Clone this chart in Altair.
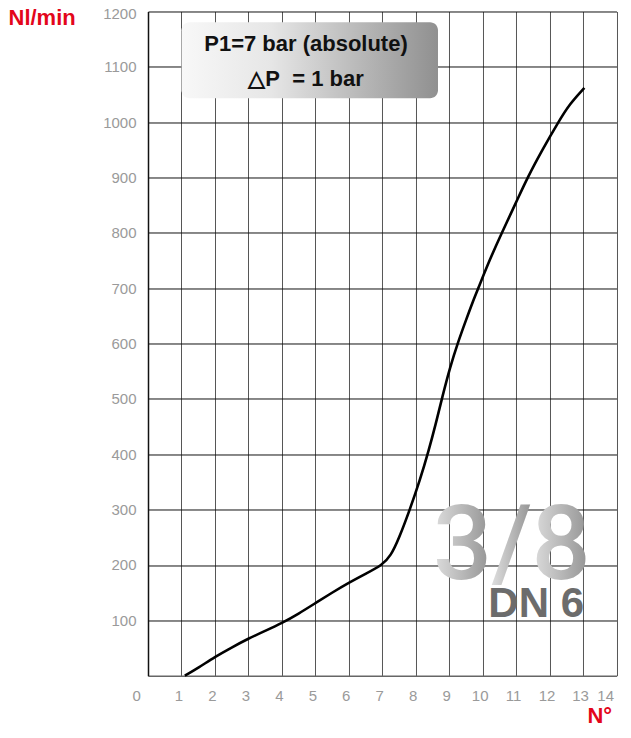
import altair as alt
import pandas as pd

# Flow curve
turns = [1.1, 1.5, 2, 2.5, 3, 3.5, 4, 4.5, 5, 5.5, 6, 6.5, 7, 7.25, 7.5, 7.83,
         8.13, 8.38, 8.6, 8.8, 9.03, 9.25, 9.5, 9.72, 9.87, 10.2, 10.57, 11.0,
         11.34, 11.8, 12.26, 12.6, 13.04]
flow = [0, 14, 34, 51, 67, 81, 95, 112, 131, 150, 168, 184, 200, 216, 248, 301,
        354, 405, 455, 505, 558, 600, 642, 678, 700, 750, 800, 855,
        900, 952, 1000, 1033, 1062]

x_ticks = list(range(0, 15))
y_ticks = list(range(100, 1300, 100))

RED = "#e3061b"
LABEL_GRAY = "#9a9a9a"

df = pd.DataFrame({"turns": turns, "flow": flow})
one = pd.DataFrame({"a": [0]})

x_enc = alt.X(
    "turns:Q",
    scale=alt.Scale(domain=[0, 14], nice=False, zero=False),
    axis=alt.Axis(
        values=x_ticks, title="N°", ticks=False, format="d",
        labelFont="Liberation Sans", labelFontSize=15, labelColor=LABEL_GRAY,
        labelPadding=13,
        labelOffset={"condition": {"test": "datum.value === 0", "value": -16}, "value": -3},
        grid=True, gridColor="#555555", gridWidth=1,
        domainColor="#666666", domainWidth=1.5,
        titleFont="Liberation Sans", titleFontSize=22, titleFontWeight="bold",
        titleColor=RED, titleAlign="left", titleBaseline="alphabetic",
        titleX=439, titleY=47, titleAngle=0,
    ),
)
y_enc = alt.Y(
    "flow:Q",
    scale=alt.Scale(domain=[0, 1200], nice=False),
    axis=alt.Axis(
        values=y_ticks, title="Nl/min", ticks=False, format="d",
        labelFont="Liberation Sans", labelFontSize=15, labelColor=LABEL_GRAY,
        labelPadding=12,
        labelOffset={"condition": {"test": "datum.value === 1200", "value": 2.5}, "value": 0},
        grid=True, gridColor="#111111", gridWidth=1,
        domainColor="#111111", domainWidth=1.5,
        titleFont="Liberation Sans", titleFontSize=22, titleFontWeight="bold",
        titleColor=RED, titleAlign="left", titleBaseline="alphabetic",
        titleX=-140, titleY=13.5, titleAngle=0,
    ),
)

line = alt.Chart(df).mark_line(
    color="black", strokeWidth=2.6, interpolate="basis"
).encode(x=x_enc, y=y_enc)

box = alt.Chart(one).mark_rect(
    cornerRadius=8,
    fill=alt.LinearGradient(
        gradient="linear",
        stops=[
            alt.GradientStop(color="#f8f8f8", offset=0),
            alt.GradientStop(color="#e6e6e6", offset=0.35),
            alt.GradientStop(color="#909090", offset=1),
        ],
        x1=0, x2=1, y1=0, y2=0,
    ),
).encode(x=alt.value(33.5), x2=alt.value(290), y=alt.value(10.8), y2=alt.value(86.8))

box_t1 = alt.Chart(one).mark_text(
    text="P1=7 bar (absolute)", font="Liberation Sans", fontSize=22,
    fontWeight="bold", color="#111111", align="center", baseline="alphabetic",
).encode(x=alt.value(158), y=alt.value(39.5))

box_t2 = alt.Chart(one).mark_text(
    text="△P\u00a0 = 1 bar", font="Liberation Sans", fontSize=22,
    fontWeight="bold", color="#111111", align="center", baseline="alphabetic",
).encode(x=alt.value(158), y=alt.value(75))


def glyph_grad():
    return alt.LinearGradient(
        gradient="linear",
        stops=[
            alt.GradientStop(color="#dedede", offset=0),
            alt.GradientStop(color="#929292", offset=1),
        ],
        x1=0, x2=1, y1=0, y2=0,
    )


big = []
for ch, cx in [("3", 314.5), ("/", 364), ("8", 413)]:
    big.append(
        alt.Chart(one).mark_text(
            text=ch, font="Roboto", fontSize=104, fontWeight=500,
            fill=glyph_grad(), align="center", baseline="alphabetic",
        ).encode(x=alt.value(cx), y=alt.value(568))
    )

dn = alt.Chart(one).mark_text(
    text="DN 6", font="Liberation Sans", fontSize=42, fontWeight="bold",
    color="#6c6c6c", align="right", baseline="alphabetic",
).encode(x=alt.value(436), y=alt.value(606))

chart = alt.layer(line, box, box_t1, box_t2, *big, dn).properties(
    width=468.5,
    height=664.2,
    padding={"left": 140, "top": 3.5, "right": 6.5, "bottom": 54},
    autosize=alt.AutoSizeParams(type="none"),
    background="white",
).configure_view(stroke=None)

chart.save("out.html", embed_options={"renderer": "svg", "actions": False})
